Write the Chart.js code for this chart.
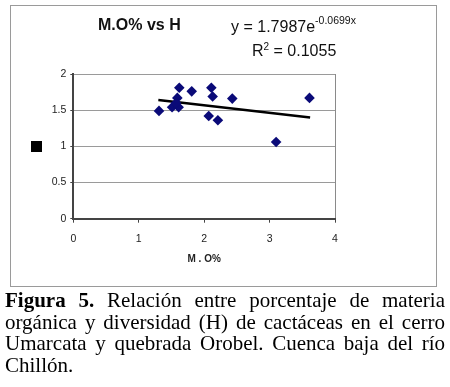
<!DOCTYPE html>
<html>
<head>
<meta charset="utf-8">
<script src="https://cdn.jsdelivr.net/npm/chart.js@4.4.1/dist/chart.umd.min.js"></script>
<style>
  html, body { margin: 0; padding: 0; background: #fff; }
  body { width: 450px; height: 387px; position: relative; overflow: hidden; }
  #frame { position: absolute; left: 10px; top: 5px; width: 425px; height: 280px; border: 1px solid #9a9a9a; }
  #wrap { position: absolute; left: 0; top: 0; width: 450px; height: 290px; }
  .lbl { position: absolute; font-family: "Liberation Sans", Arial, sans-serif; color: #111; white-space: nowrap; }
  #title { left: 98px; top: 16px; font-size: 16px; font-weight: bold; }
  #eq { left: 231px; top: 16px; font-size: 16px; }
  #eq sup { font-size: 10.5px; position: relative; top: -2px; }
  #r2 { left: 252px; top: 41px; font-size: 16px; }
  #r2 sup { font-size: 10px; }
  #mark { position: absolute; left: 31px; top: 141px; width: 11px; height: 11px; background: #000; }
  #caption { position: absolute; left: 5px; top: 290px; width: 440px; font-family: "Liberation Serif", "Times New Roman", serif;
    font-size: 21px; line-height: 21.5px; text-align: justify; color: #000; }
</style>
</head>
<body>
<div id="frame"></div>
<div id="wrap"><canvas id="chart" width="450" height="290"></canvas></div>
<div class="lbl" id="title">M.O% vs H</div>
<div class="lbl" id="eq">y = 1.7987e<sup>-0.0699x</sup></div>
<div class="lbl" id="r2">R<sup>2</sup> = 0.1055</div>
<div id="mark"></div>
<div id="caption"><b>Figura 5.</b> Relación entre porcentaje de materia orgánica y diversidad (H) de cactáceas en el cerro Umarcata y quebrada Orobel. Cuenca baja del río Chillón.</div>
<script>
  // Datos.
  const moX = [1.31, 1.51, 1.61, 1.62, 1.59, 1.57, 1.81, 2.11, 2.13, 2.07, 2.21, 2.43, 3.61, 3.10];
  const hY = [1.49, 1.54, 1.54, 1.81, 1.67, 1.60, 1.76, 1.81, 1.69, 1.42, 1.36, 1.66, 1.67, 1.06];
  const trendX = [1.3, 3.62];
  const trendY = [1.64, 1.40];
  const xTicks = [0, 1, 2, 3, 4];
  const yTicks = [0, 0.5, 1, 1.5, 2];

  const font = { family: '"Liberation Sans", Arial, sans-serif', size: 10.5 };

  new Chart(document.getElementById('chart'), {
    type: 'scatter',
    data: {
      datasets: [
        {
          label: 'H',
          data: moX.map(function (x, i) { return { x: x, y: hY[i] }; }),
          pointStyle: 'rectRot',
          pointRadius: 5.3,
          backgroundColor: '#0a0a78',
          borderColor: '#0a0a78',
          borderWidth: 0,
        },
        {
          label: 'Tendencia',
          type: 'line',
          data: trendX.map(function (x, i) { return { x: x, y: trendY[i] }; }),
          borderColor: '#000',
          borderWidth: 2.5,
          pointRadius: 0,
          fill: false,
        },
      ],
    },
    options: {
      responsive: false,
      animation: false,
      layout: { padding: { left: 0, top: 74, right: 115, bottom: 0 } },
      plugins: { legend: { display: false }, tooltip: { enabled: false } },
      scales: {
        x: {
          type: 'linear',
          min: 0,
          max: 4,
          afterBuildTicks: function (s) { s.ticks = xTicks.map(function (v) { return { value: v }; }); },
          afterFit: function (s) { s.height = 71.3; },
          grid: {
            color: function (c) { return c.tick && c.tick.value === 4 ? '#8a8a8a' : 'rgba(0,0,0,0)'; },
            tickColor: '#444',
            tickLength: 4,
            drawOnChartArea: true,
          },
          border: { color: '#444', width: 2 },
          ticks: { color: '#222', font: font, padding: 10, maxRotation: 0, callback: function (v) { return String(v); } },
          title: {
            display: true,
            text: 'M . O%',
            color: '#222',
            font: { family: font.family, size: 10, weight: 'bold' },
            padding: { top: 0, bottom: 25 },
          },
        },
        y: {
          min: 0,
          max: 2,
          afterBuildTicks: function (s) { s.ticks = yTicks.map(function (v) { return { value: v }; }); },
          afterFit: function (s) { s.width = 73.3; },
          grid: { color: '#9a9a9a', tickColor: '#444', tickLength: 3 },
          border: { color: '#444', width: 2 },
          ticks: { color: '#222', font: font, padding: 4, callback: function (v) { return String(v); } },
        },
      },
    },
  });
</script>
</body>
</html>
